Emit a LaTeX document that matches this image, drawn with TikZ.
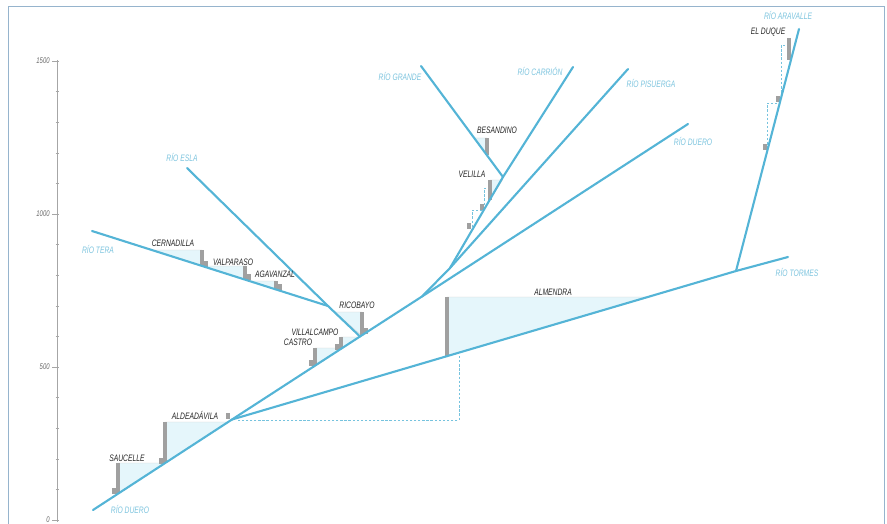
\documentclass[tikz,border=0pt]{standalone}
\usepackage{fontspec}
\newfontfamily\condfont[FakeStretch=0.72]{Liberation Sans}
\usetikzlibrary{positioning}

\definecolor{rio}{RGB}{84,180,214}
\definecolor{riotext}{RGB}{125,196,222}
\definecolor{presa}{RGB}{160,160,160}
\definecolor{embalse}{RGB}{229,246,251}
\definecolor{marco}{RGB}{150,180,205}

\tikzset{
  rio/.style={draw=rio, line width=1.8pt, line cap=round},
  riolabel/.style={text=riotext, font=\condfont\itshape\fontsize{8}{9}\selectfont, inner sep=1pt},
  damlabel/.style={text=black!85, font=\condfont\itshape\fontsize{8}{9}\selectfont, inner sep=1pt},
  axlabel/.style={text=black!60, font=\condfont\itshape\fontsize{7}{8}\selectfont, inner sep=1pt, anchor=east},
  dam/.style={fill=presa},
  res/.style={fill=embalse, draw=black!18, line width=0.3pt},
  oldline/.style={draw=rio!80, line width=0.6pt, dash pattern=on 2pt off 1.5pt},
  axis/.style={draw=black!35, line width=0.5pt}
}

\begin{document}
\begin{tikzpicture}[x=0.3mm, y=-0.3mm]
\useasboundingbox (0,0) rectangle (887,524);
\draw[marco, line width=0.8pt] (8,524) -- (8,6) -- (884,6) -- (884,524);

% altitude axis
\draw[axis] (57,60) -- (57,522);
\foreach \v in {0,100,...,1500}
  \draw[axis] (55.5,520-0.306*\v) -- (58.5,520-0.306*\v);
\foreach \v in {0,500,1000,1500}
  \draw[axis] (52,520-0.306*\v) -- (57,520-0.306*\v);
\node[axlabel] (ax-1500) at (51,61) {1500};
\node[axlabel] (ax-1000) at (51,214) {1000};
\node[axlabel] (ax-500) at (51,367) {500};
\node[axlabel] (ax-0) at (51,520) {0};

% junctions and ends
\coordinate (duero-s) at (93,510);
\coordinate (duero-n) at (688,124);
\coordinate (j-tormes) at (232,419.5);
\coordinate (j-esla) at (360,336.5);
\coordinate (j-norte) at (422,296.5);
\coordinate (j-pc) at (450,268);
\coordinate (j-grande) at (503,177);
\coordinate (j-tera) at (328,306);
\coordinate (j-aravalle) at (736,271);
\coordinate (esla-n) at (187,168);
\coordinate (tera-n) at (92,231);
\coordinate (grande-n) at (421,66);
\coordinate (carrion-n) at (573,67);
\coordinate (pisuerga-n) at (628,69);
\coordinate (tormes-e) at (788,257);
\coordinate (aravalle-n) at (799,29);

% reservoirs
\filldraw[res] (118,463) -- (165.5,463) -- (118,494) -- cycle;
\filldraw[res] (165,422) -- (228.7,422) -- (165,463) -- cycle;
\filldraw[res] (315,348) -- (342.7,348) -- (315,366) -- cycle;
\filldraw[res] (341,337) -- (359.7,337) -- (341,349) -- cycle;
\filldraw[res] (334.6,312) -- (362,312) -- (361,335) -- cycle;
\filldraw[res] (151.8,250) -- (202,250) -- (202,266) -- cycle;
\filldraw[res] (202.1,266) -- (245,266) -- (245,279.6) -- cycle;
\filldraw[res] (249.3,281) -- (276,281) -- (276,289.5) -- cycle;
\filldraw[res] (447,297) -- (649.9,297) -- (447,355.7) -- cycle;
\filldraw[res] (474.2,138) -- (487,138) -- (487,155) -- cycle;
\filldraw[res] (490,180) -- (502.5,180) -- (490,200) -- cycle;

% old levels
\draw[oldline] (459,356) -- (459,420) -- (236,420);
\draw[oldline] (490,188) -- (484,188) -- (484,207);
\draw[oldline] (482,210) -- (472,210) -- (472,227);
\draw[oldline] (789,45) -- (781,45) -- (781,98);
\draw[oldline] (777,103) -- (767,103) -- (767,147);

% dams
\foreach \x/\t/\b in {118/463/494, 165/422/463, 315/348/366, 341/337/349,
    362/312/335, 202/250/266, 245/266/280, 276/281/290, 447/297/356,
    487/138/155, 490/180/200, 789/38/60}
  \fill[dam] (\x-1.6,\t) rectangle (\x+1.6,\b);
\foreach \x/\y in {112/494, 159/464, 226/419, 309/366, 335/350, 364/334,
    204/267, 247/280, 278/290, 480/210, 467/229, 776/102, 763/150}
  \fill[dam] (\x,\y) rectangle +(4,-6);

% rivers
\draw[rio] (duero-s) -- (j-tormes) -- (j-esla) -- (j-norte) -- (duero-n);
\draw[rio] (j-esla) -- (j-tera) -- (esla-n);
\draw[rio] (j-tera) -- (tera-n);
\draw[rio] (j-norte) -- (j-pc) -- (j-grande) -- (carrion-n);
\draw[rio] (j-pc) -- (pisuerga-n);
\draw[rio] (j-grande) -- (grande-n);
\draw[rio] (j-tormes) -- (j-aravalle) -- (tormes-e);
\draw[rio] (j-aravalle) -- (aravalle-n);

% river names
\node[riolabel] (n-duero-s) at (130,509) {RÍO DUERO};
\node[riolabel] (n-duero-n) at (693,141) {RÍO DUERO};
\node[riolabel] (n-tera) at (98,249) {RÍO TERA};
\node[riolabel] (n-esla) at (182,157) {RÍO ESLA};
\node[riolabel] (n-grande) at (400,76) {RÍO GRANDE};
\node[riolabel] (n-carrion) at (540,71) {RÍO CARRIÓN};
\node[riolabel] (n-pisuerga) at (651,83) {RÍO PISUERGA};
\node[riolabel] (n-tormes) at (797,272) {RÍO TORMES};
\node[riolabel] (n-aravalle) at (788,15) {RÍO ARAVALLE};

% dam names
\node[damlabel] (saucelle) at (127,458) {SAUCELLE};
\node[damlabel] (aldeadavila) at (195,415) {ALDEADÁVILA};
\node[damlabel] (castro) at (298,342) {CASTRO};
\node[damlabel] (villalcampo) at (315,332) {VILLALCAMPO};
\node[damlabel] (ricobayo) at (357,305) {RICOBAYO};
\node[damlabel] (cernadilla) at (173,243) {CERNADILLA};
\node[damlabel] (valparaiso) at (233,262) {VALPARASO};
\node[damlabel] (agavanzal) at (275,274) {AGAVANZAL};
\node[damlabel] (almendra) at (553,292) {ALMENDRA};
\node[damlabel] (besandino) at (497,130) {BESANDINO};
\node[damlabel] (velilla) at (472,174) {VELILLA};
\node[damlabel] (elduque) at (768,32) {EL DUQUE};
\end{tikzpicture}
\end{document}
